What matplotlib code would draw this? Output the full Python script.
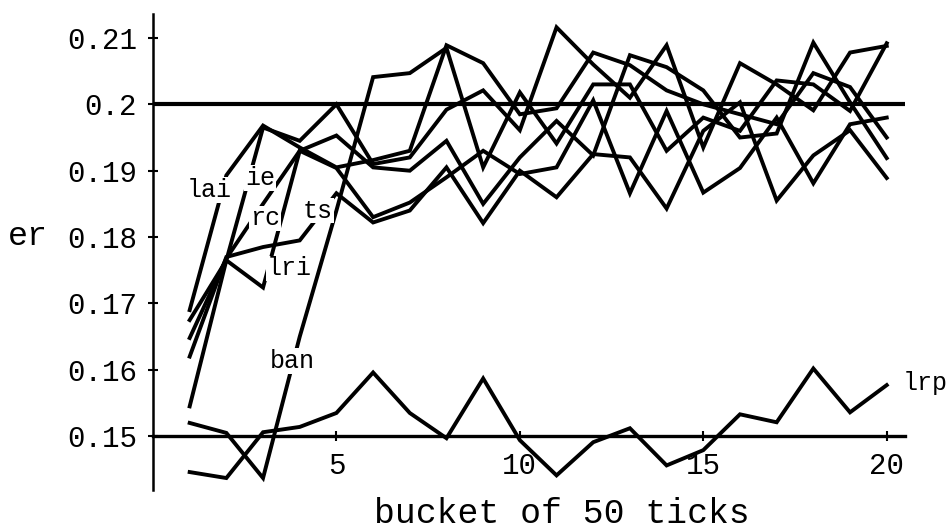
"""
Error rate per bucket of 50 ticks for several learners (scanned figure redraw).
"""

import matplotlib
matplotlib.use("Agg")
import matplotlib.pyplot as plt

buckets = list(range(1, 21))

lai = [0.1690, 0.1893, 0.1968, 0.1935, 0.1905, 0.1916, 0.1930, 0.2089, 0.2062, 0.1985,
       0.1994, 0.2078, 0.2059, 0.2021, 0.2000, 0.1985, 0.1970, 0.2047, 0.2026, 0.1950]
ie = [0.1675, 0.1765, 0.1965, 0.1945, 0.2000, 0.1910, 0.1920, 0.1992, 0.2021, 0.1961,
      0.2116, 0.2060, 0.2010, 0.2089, 0.1935, 0.2062, 0.2030, 0.1991, 0.2078, 0.2088]
rc = [0.1648, 0.1768, 0.1850, 0.1930, 0.1953, 0.1905, 0.1900, 0.1945, 0.1850, 0.1920,
      0.1975, 0.1923, 0.2074, 0.2056, 0.2021, 0.1950, 0.1956, 0.2093, 0.2003, 0.1919]
ts = [0.1620, 0.1770, 0.1785, 0.1795, 0.1866, 0.1822, 0.1840, 0.1905, 0.1821, 0.1900,
      0.1860, 0.1925, 0.1920, 0.1843, 0.1960, 0.2003, 0.1855, 0.1923, 0.1961, 0.1889]
lri = [0.1545, 0.1765, 0.1724, 0.1930, 0.1904, 0.1830, 0.1852, 0.1890, 0.1930, 0.1895,
       0.1905, 0.2006, 0.1866, 0.1990, 0.1867, 0.1904, 0.1980, 0.1881, 0.1970, 0.1980]
ban = [0.1520, 0.1505, 0.1437, 0.1650, 0.1840, 0.2041, 0.2047, 0.2085, 0.1905, 0.2018,
       0.1941, 0.2030, 0.2030, 0.1930, 0.1980, 0.1960, 0.2036, 0.2030, 0.1990, 0.2092]
lrp = [0.1446, 0.1437, 0.1506, 0.1514, 0.1535, 0.1596, 0.1535, 0.1497, 0.1587, 0.1494,
       0.1441, 0.1491, 0.1512, 0.1456, 0.1479, 0.1533, 0.1521, 0.1602, 0.1536, 0.1577]

series = [lai, ie, rc, ts, lri, ban, lrp]

# label name and where it sits (bucket, er)
label_names = ["lai", "ie", "rc", "ts", "lri", "ban", "lrp"]
label_x = [1.53, 2.92, 3.05, 4.50, 3.71, 3.81, 21.04]
label_y = [0.1871, 0.1889, 0.1828, 0.1840, 0.1753, 0.1613, 0.1580]

x_ticks = [5, 10, 15, 20]
y_ticks = [0.15, 0.16, 0.17, 0.18, 0.19, 0.20, 0.21]
y_tick_labels = ["0.15", "0.16", "0.17", "0.18", "0.19", "0.2", "0.21"]

plt.rcParams["font.family"] = ["Liberation Mono", "DejaVu Sans Mono"]

fig = plt.figure(figsize=(9.52, 5.30), dpi=100)
ax = fig.add_axes([0.1607, 0.0755, 0.790, 0.898])

ax.axhline(0.20, color="black", linewidth=3.0, zorder=1)
for ys in series:
    ax.plot(buckets, ys, color="black", linewidth=2.8, solid_joinstyle="miter", zorder=2)

for name, lx, ly in zip(label_names, label_x, label_y):
    ax.text(lx, ly, name, fontsize=18, ha="center", va="center", zorder=3,
            bbox=dict(facecolor="white", edgecolor="none", pad=0.5))

ax.set_xlim(0, 20.5)
ax.set_ylim(0.1419, 0.2136)

ax.spines["left"].set_position(("data", 0))
ax.spines["bottom"].set_position(("data", 0.15))
ax.spines["top"].set_visible(False)
ax.spines["right"].set_visible(False)
ax.spines["left"].set_linewidth(1.8)
ax.spines["bottom"].set_linewidth(2.4)

ax.set_xticks(x_ticks)
ax.set_yticks(y_ticks)
ax.set_yticklabels(y_tick_labels)
ax.tick_params(axis="both", direction="inout", length=7, width=1.5,
               labelsize=21, pad=8)

ax.text(-0.166, 0.532, "er", transform=ax.transAxes, fontsize=24,
        ha="center", va="center")
ax.text(0.544, -0.05, "bucket of 50 ticks", transform=ax.transAxes,
        fontsize=25, ha="center", va="center")

fig.savefig("out.png", dpi=100)
